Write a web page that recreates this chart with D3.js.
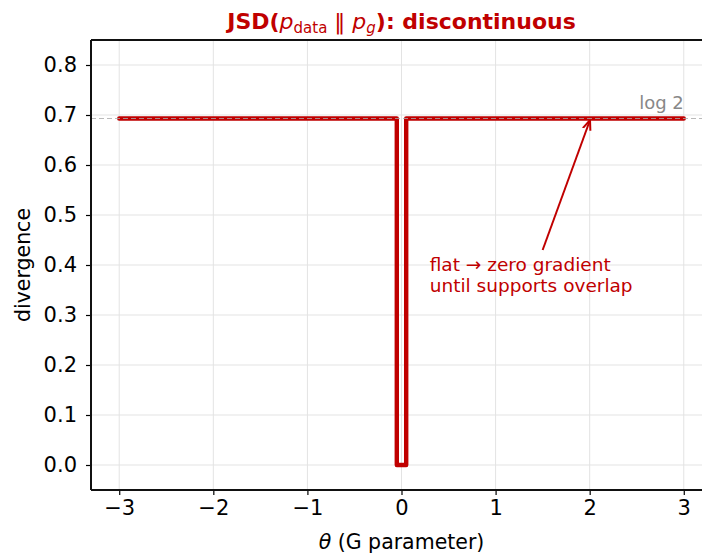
<!DOCTYPE html>
<html>
<head>
<meta charset="utf-8">
<script src="https://cdn.jsdelivr.net/npm/d3@7"></script>
<style>
body { margin: 0; background: #fff; }
text { font-family: "DejaVu Sans", sans-serif; }
</style>
</head>
<body>
<div id="div_svg"></div>
<script>
// curve: JSD is log 2 everywhere except a thin dip around theta = 0
var theta = [-3, -0.05, -0.05, 0.05, 0.05, 3];
var jsd = [0.693, 0.693, 0, 0, 0.693, 0.693];
var xTicks = [-3, -2, -1, 0, 1, 2, 3];
var yTicks = [0, 0.1, 0.2, 0.3, 0.4, 0.5, 0.6, 0.7, 0.8];
var log2 = 0.693;
var arrowFrom = [1.5, 0.43];
var arrowTo = [2, 0.688];
var red = "#c00000";

var W = 702, H = 553;
var mLeft = 91, mRight = 712, mTop = 40, mBottom = 490;

var svg = d3.select("#div_svg").append("svg").attr("id", "svg")
    .attr("width", W).attr("height", H);

var x = d3.scaleLinear().domain([-3.3, 3.3]).range([mLeft, mRight]);
var y = d3.scaleLinear().domain([-0.05, 0.85]).range([mBottom, mTop]);

var fmtX = function(d) { return d < 0 ? "\u2212" + Math.abs(d) : String(d); };

// grid
svg.append("g").selectAll("line").data(xTicks).enter().append("line")
    .attr("x1", d => x(d)).attr("x2", d => x(d)).attr("y1", mTop).attr("y2", mBottom)
    .style("stroke", "#e3e3e3").style("stroke-width", 1);
svg.append("g").selectAll("line").data(yTicks).enter().append("line")
    .attr("x1", mLeft).attr("x2", mRight).attr("y1", d => y(d)).attr("y2", d => y(d))
    .style("stroke", "#e3e3e3").style("stroke-width", 1);

// curve
var line = d3.line().x((d, i) => x(theta[i])).y(d => y(d));
svg.append("path").datum(jsd).attr("d", line)
    .style("fill", "none").style("stroke", red).style("stroke-width", 4.4)
    .style("stroke-linejoin", "round").style("stroke-linecap", "round");

// log 2 reference line
svg.append("line").attr("x1", mLeft).attr("x2", mRight).attr("y1", y(log2)).attr("y2", y(log2))
    .style("stroke", "#aaa").style("stroke-width", 1.2).style("stroke-dasharray", "5,3")
    .style("opacity", 0.8);
svg.append("text").attr("x", x(3)).attr("y", y(log2) - 10).attr("text-anchor", "end")
    .style("font-size", "18px").style("fill", "#888").text("log 2");

// annotation
svg.append("defs").append("marker").attr("id", "head").attr("viewBox", "0 0 10 10")
    .attr("refX", 9).attr("refY", 5).attr("markerWidth", 10).attr("markerHeight", 10)
    .attr("markerUnits", "userSpaceOnUse").attr("orient", "auto")
    .append("path").attr("d", "M0,1 L10,5 L0,9").style("fill", "none")
    .style("stroke", red).style("stroke-width", 2);
svg.append("line").attr("x1", x(arrowFrom[0])).attr("y1", y(arrowFrom[1]))
    .attr("x2", x(arrowTo[0])).attr("y2", y(arrowTo[1]))
    .style("stroke", red).style("stroke-width", 2).attr("marker-end", "url(#head)");
var note = svg.append("text").style("font-size", "18.5px").style("fill", red);
note.append("tspan").attr("x", x(0.3)).attr("y", y(0.4) + 6).text("flat \u2192 zero gradient");
note.append("tspan").attr("x", x(0.3)).attr("y", y(0.4) + 27).text("until supports overlap");

// axes
var gx = svg.append("g").attr("transform", "translate(0," + mBottom + ")")
    .call(d3.axisBottom(x).tickValues(xTicks).tickFormat(fmtX).tickSize(5).tickPadding(5));
var gy = svg.append("g").attr("transform", "translate(" + mLeft + ",0)")
    .call(d3.axisLeft(y).tickValues(yTicks).tickFormat(d3.format(".1f")).tickSize(5).tickPadding(9));
[gx, gy].forEach(function(g) {
  g.select(".domain").remove();
  g.selectAll("line").style("stroke", "#000").style("stroke-width", 1.2);
  g.selectAll("text").style("font-size", "21px").style("fill", "#000")
      .style("font-family", "DejaVu Sans, sans-serif");
});
svg.append("line").attr("x1", mLeft).attr("x2", mLeft).attr("y1", mTop).attr("y2", mBottom)
    .style("stroke", "#111").style("stroke-width", 2);
svg.append("line").attr("x1", mLeft).attr("x2", mRight).attr("y1", mBottom).attr("y2", mBottom)
    .style("stroke", "#111").style("stroke-width", 2);
svg.append("line").attr("x1", mLeft).attr("x2", mRight).attr("y1", mTop).attr("y2", mTop)
    .style("stroke", "#111").style("stroke-width", 2);

// labels
svg.append("text").attr("x", x(0)).attr("y", 549).attr("text-anchor", "middle")
    .style("font-size", "20.5px").html("<tspan font-style='italic'>\u03b8</tspan> (G parameter)");
svg.append("text").attr("transform", "translate(30," + y(0.4) + ") rotate(-90)")
    .attr("text-anchor", "middle").style("font-size", "20.5px").text("divergence");

var title = svg.append("text").attr("x", x(0)).attr("y", 29).attr("text-anchor", "middle")
    .style("font-size", "22px").style("font-weight", "bold").style("fill", red);
title.append("tspan").text("JSD(");
title.append("tspan").style("font-style", "italic").style("font-weight", "normal").text("p");
title.append("tspan").attr("dy", 4).style("font-size", "15px").style("font-weight", "normal").text("data");
title.append("tspan").attr("dy", -4).style("font-weight", "normal").text(" \u2016 ");
title.append("tspan").style("font-style", "italic").style("font-weight", "normal").text("p");
title.append("tspan").attr("dy", 4).style("font-size", "15px").style("font-style", "italic").style("font-weight", "normal").text("g");
title.append("tspan").attr("dy", -4).text("): discontinuous");
</script>
</body>
</html>
